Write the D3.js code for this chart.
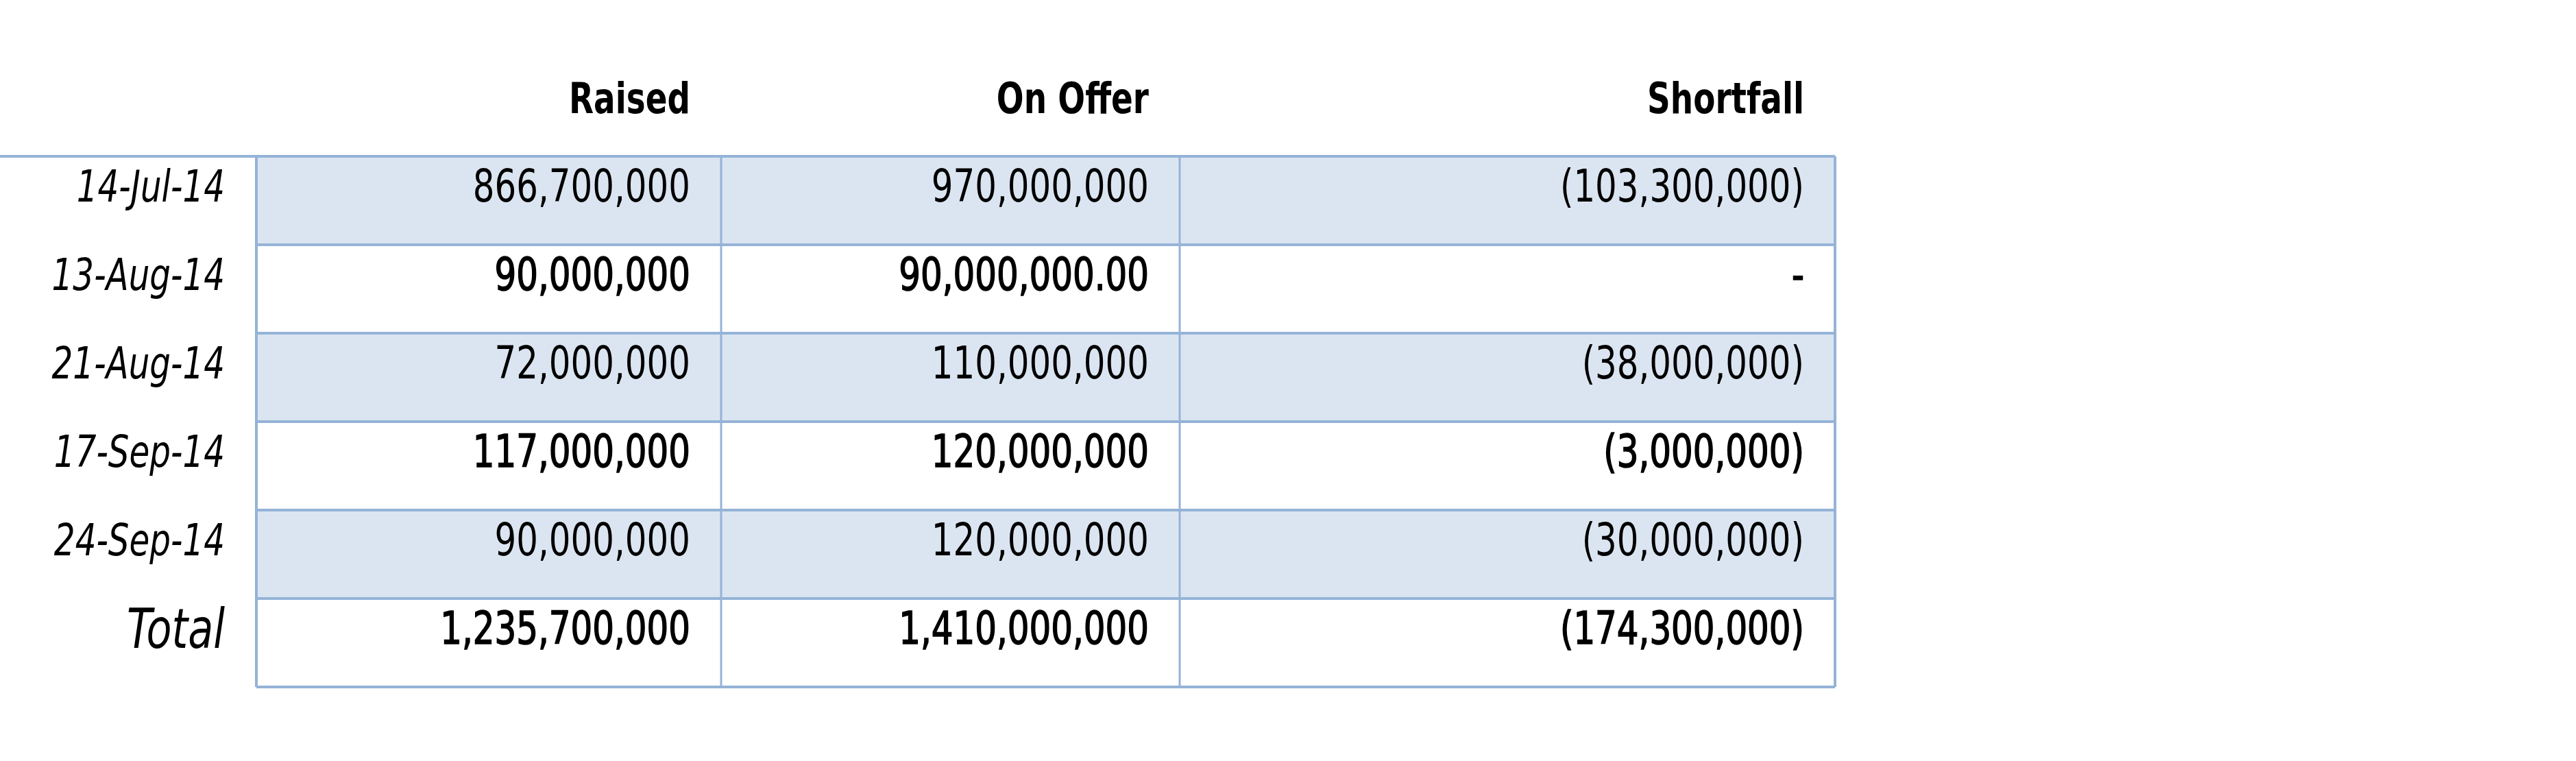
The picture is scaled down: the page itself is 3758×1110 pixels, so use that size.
<!DOCTYPE html>
<html><head><meta charset="utf-8">
<script src="https://cdn.jsdelivr.net/npm/d3@7"></script>
<style>body{margin:0;background:#fff}svg{display:block}</style>
</head><body>
<script>
const headers = ["Raised", "On Offer", "Shortfall"];
const dates = ["14-Jul-14", "13-Aug-14", "21-Aug-14", "17-Sep-14", "24-Sep-14"];
const raised = ["866,700,000", "90,000,000", "72,000,000", "117,000,000", "90,000,000"];
const onOffer = ["970,000,000", "90,000,000.00", "110,000,000", "120,000,000", "120,000,000"];
const shortfall = ["(103,300,000)", "-", "(38,000,000)", "(3,000,000)", "(30,000,000)"];
const bold = [false, true, false, true, false];
const totalLabel = "Total";
const totals = ["1,235,700,000", "1,410,000,000", "(174,300,000)"];

const W = 3758, H = 1110;
const svg = d3.select("body").append("svg").attr("width", W).attr("height", H);
const font = "'DejaVu Sans Condensed','DejaVu Sans',sans-serif";
const colEdges = [374, 1052, 1721, 2677];
const rowKeys = d3.range(dates.length + 1);
const y = d3.scaleBand().domain(rowKeys).range([228, 1002]);
const fill = "#dbe5f1", stroke = "#95b3d7";
const SX = 0.84;

const rows = rowKeys.map(i => ({
  i,
  label: i < dates.length ? dates[i] : totalLabel,
  vals: i < dates.length ? [raised[i], onOffer[i], shortfall[i]] : totals,
  bold: i < dates.length ? bold[i] : true
}));

function place(sel, xf, yf) {
  return sel.attr("transform", (d, i) => `translate(${xf(d, i)},${yf(d, i)}) scale(${SX},1)`)
    .attr("text-anchor", "end").attr("dominant-baseline", "central");
}

svg.selectAll("rect.bg").data(rows).join("rect")
  .attr("x", colEdges[0]).attr("y", d => y(d.i))
  .attr("width", colEdges[3] - colEdges[0]).attr("height", y.bandwidth())
  .attr("fill", d => d.i % 2 === 0 && d.i < dates.length ? fill : "#fff");

const hy = rowKeys.map(i => y(i)).concat([y.range()[1]]);
svg.selectAll("line.h").data(hy).join("line")
  .attr("x1", (d, i) => i === 0 ? 0 : colEdges[0]).attr("x2", colEdges[3])
  .attr("y1", d => d).attr("y2", d => d)
  .attr("stroke", stroke).attr("stroke-width", 4);
svg.selectAll("line.v").data(colEdges).join("line")
  .attr("x1", d => d).attr("x2", d => d)
  .attr("y1", y.range()[0]).attr("y2", y.range()[1])
  .attr("stroke", stroke).attr("stroke-width", (d, i) => (i === 0 || i === 3) ? 4 : 3);

place(svg.selectAll("text.hd").data(headers).join("text"),
  (d, i) => colEdges[i + 1] - 45, () => 144)
  .attr("font-family", font).attr("font-weight", "bold").attr("font-size", 62)
  .text(d => d);

place(svg.selectAll("text.lab").data(rows).join("text"),
  () => 328, d => y(d.i) + y.bandwidth() * 0.34)
  .attr("font-family", font).attr("font-style", "italic")
  .attr("font-size", d => d.i < dates.length ? 64 : 80)
  .text(d => d.label);

rows.forEach(r => {
  place(svg.selectAll(null).data(r.vals).join("text"),
    (d, j) => colEdges[j + 1] - 45, () => y(r.i) + y.bandwidth() * 0.33)
    .attr("font-family", font).attr("font-size", 66)
    .attr("stroke", r.bold ? "#000" : "none").attr("stroke-width", r.bold ? 1.6 : 0)
    .text(d => d);
});
</script>
</body></html>
